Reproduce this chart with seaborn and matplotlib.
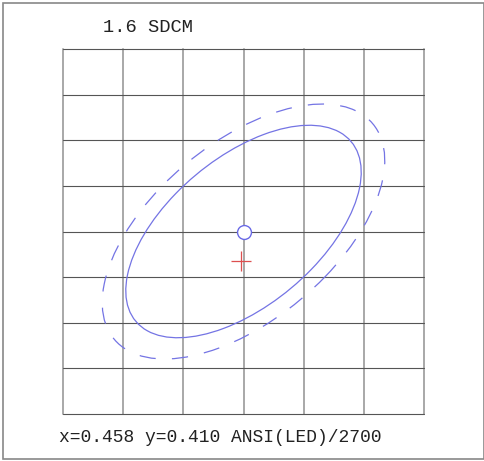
import numpy as np
import matplotlib
matplotlib.use("Agg")
import matplotlib.pyplot as plt
import seaborn as sns
import pandas as pd
from matplotlib.patches import Ellipse, Rectangle

# --- Data ---
center_x = [0.4578]
center_y = [0.4101]
measured_x = [0.45776]
measured_y = [0.40945]
ellipse_a = [0.00270, 0.00324]      # semi-major axes
ellipse_b = [0.00140, 0.00168]      # semi-minor axes
ellipse_angle = [53.7, 53.7]
ellipse_style = ["solid", "dashed"]
grid_step = 0.001
n_cols = 6
n_rows = 8
title_text = "1.6 SDCM"
info_text = "x=0.458 y=0.410 ANSI(LED)/2700"

# --- Style ---
sns.set_theme(style="white")
plt.rcParams["font.family"] = ["Liberation Mono", "DejaVu Sans Mono"]

fig = plt.figure(figsize=(4.85, 4.61), dpi=100)
fig.patch.set_facecolor("white")
ax = fig.add_axes([63 / 485, 1 - 414 / 461, (424 - 63) / 485, (414 - 49) / 461])

cx, cy = center_x[0], center_y[0]
ax.set_xlim(cx - grid_step * n_cols / 2, cx + grid_step * n_cols / 2)
ax.set_ylim(cy - grid_step * n_rows / 2, cy + grid_step * n_rows / 2)

# grid: vertical lines lighter and wider, horizontal darker
for k in range(n_cols + 1):
    ax.axvline(cx + (k - n_cols / 2) * grid_step, color="#a8a8a8", lw=1.4, clip_on=False, zorder=1)
for k in range(n_rows + 1):
    ax.axhline(cy + (k - n_rows / 2) * grid_step, color="#555555", lw=0.8, clip_on=False, zorder=1)

# ellipses
for a, b, ang, st in zip(ellipse_a, ellipse_b, ellipse_angle, ellipse_style):
    e = Ellipse((cx, cy), 2 * a, 2 * b, angle=ang, fill=False,
                edgecolor="#7474e4", lw=0.9, zorder=3)
    if st == "dashed":
        e.set_linestyle((0, (13, 13)))
    ax.add_patch(e)

df_c = pd.DataFrame({"x": center_x, "y": center_y})
df_m = pd.DataFrame({"x": measured_x, "y": measured_y})
sns.scatterplot(data=df_c, x="x", y="y", ax=ax, marker="o", s=100,
                facecolor="white", edgecolor="#6a6ae6", linewidth=1.0, zorder=4)
sns.scatterplot(data=df_m, x="x", y="y", ax=ax, marker="+", s=190,
                color="#dd4f4f", linewidth=0.9, zorder=4)

ax.set_xticks([])
ax.set_yticks([])
ax.set_xlabel("")
ax.set_ylabel("")
for sp in ax.spines.values():
    sp.set_visible(False)

# texts
fig.text(103 / 485, 1 - 27.5 / 461, title_text, fontsize=13.5, color="#222222",
         ha="left", va="center")
fig.text(59 / 485, 1 - 437.5 / 461, info_text, fontsize=13.0, color="#222222",
         ha="left", va="center")

# outer frame
fig.patches.append(Rectangle((3 / 485, 1 - 459 / 461), 481 / 485, 456 / 461,
                             transform=fig.transFigure, fill=False,
                             edgecolor="#888888", lw=1.2))

fig.savefig("out.png", dpi=100)
